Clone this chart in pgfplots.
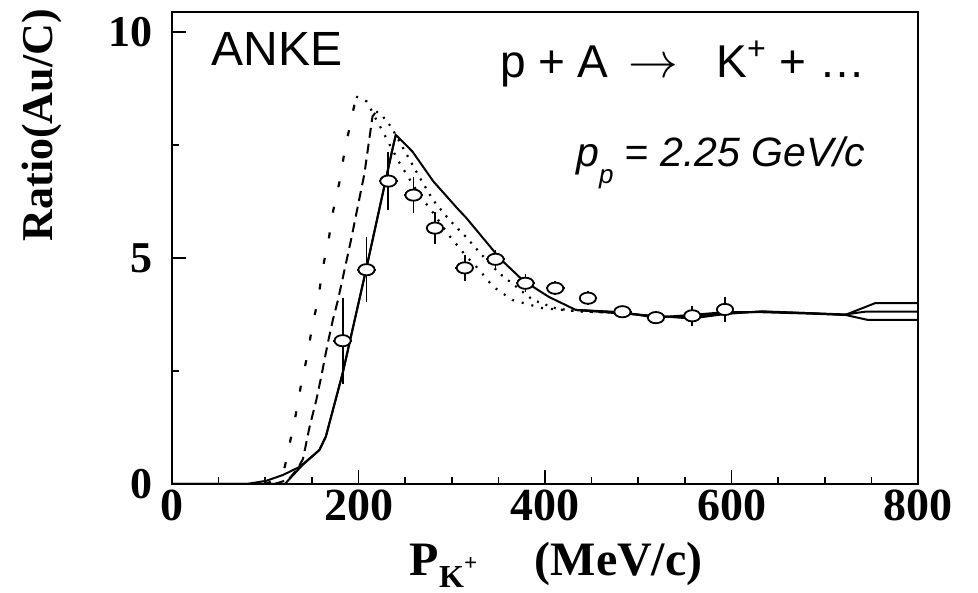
\documentclass[border=0pt]{standalone}
\usepackage{fontspec}
\setmainfont{Liberation Serif}
\newfontfamily\arial{Liberation Sans}
\usepackage{pgfplots}
\usepackage{pgfplotstable}
\pgfplotsset{compat=1.18}
\pgfplotstableread{
x y ex ey
183 3.17 10 0.95
208.6 4.74 10 0.72
232 6.70 10 0.65
259 6.39 10 0.40
282 5.66 10 0.35
314 4.78 10 0.28
347 4.97 10 0.20
379 4.44 10 0.20
411 4.33 10 0.15
446 4.11 10 0.15
483 3.81 10 0.12
519 3.68 10 0.12
558 3.72 10 0.22
593 3.86 10 0.28
}\datatab
\begin{document}
\begin{tikzpicture}
\begin{axis}[
  name=ax,
  scale only axis,
  width=373pt, height=236pt,
  xmin=0, xmax=800, ymin=0, ymax=10.44,
  xtick={0,200,400,600,800},
  minor xtick={50,100,...,750},
  ytick={0,5,10},
  minor ytick={2.5,7.5},
  tick pos=left,
  tick align=inside,
  major tick length=7pt,
  minor tick length=3.5pt,
  axis line style={line width=0.9pt},
  every tick/.style={line width=0.8pt,black},
  every minor tick/.style={line width=0.8pt,black},
  /pgf/number format/assume math mode=true,
  yticklabel style={font=\fontsize{22}{22}\selectfont\bfseries, xshift=-6pt},
  xticklabel style={font=\fontsize{23}{23}\selectfont\bfseries, yshift=-1pt, inner ysep=2pt},
  every axis y label/.style={at={(axis description cs:-0.175,0.76)},rotate=90,anchor=center},
  every axis x label/.style={at={(axis description cs:0.515,-0.172)},anchor=center, inner sep=1pt},
  ylabel={\fontsize{22}{22}\selectfont\bfseries Ratio(Au/C)},
  xlabel={\fontsize{24}{24}\selectfont\bfseries P\raisebox{-0.25em}{\fontsize{16}{16}\selectfont K\raisebox{0.55em}{\fontsize{11.5}{11.5}\selectfont +}}\hspace{1.2em}(MeV/c)},
  clip=true,
]
% sparse dotted curve (rise)
\addplot[black, line width=1.1pt, dash pattern=on 3pt off 10pt] coordinates {
(100,0)(112,0.1)(121,0.38)(127,0.97)(133,1.56)(138.7,2.23)(145,2.83)(150.5,3.5)(156.5,4.07)(162,4.81)(168,5.41)(173,6.06)(179.7,6.69)(185,7.35)(191.4,7.98)(197.5,8.57)
};
% its descent
\addplot[black, line width=1.1pt, dash pattern=on 1pt off 4pt] coordinates {
(197.5,8.57)(209,8.46)(218,8.1)(226,7.8)(232,7.56)(244,7.1)(250,6.9)(265,6.4)(280,6.0)(297,5.5)(315,5.05)(329,4.75)(344,4.37)(365,4.07)(397,3.89)(436,3.82)(480,3.78)
};
% dashed curve (rise)
\addplot[black, line width=1pt, dash pattern=on 5pt off 3pt] coordinates {
(110,0)(125,0.1)(135,0.35)(140.4,0.55)(147.6,1.27)(154.8,1.86)(160,2.37)(167,3.11)(172.5,3.63)(178,4.07)(192,5.4)(206.4,6.87)(215,8.13)(219,8.24)
};
% its descent
\addplot[black, line width=1.1pt, dash pattern=on 1pt off 3.5pt] coordinates {
(219,8.24)(226,8.13)(235,7.9)(250,7.35)(265,6.8)(280,6.28)(297,5.85)(315,5.47)(333,5.05)(351,4.66)(370,4.35)(387,4.07)(411,3.89)(430,3.83)(480,3.78)
};
% solid curves
\addplot[black, line width=1pt] coordinates {
(0,0)(80,0)(101,0.07)(119,0.2)(137,0.38)(158,0.75)(165,1.05)(183,2.45)(208,4.73)(237,7.46)(240,7.72)(245,7.62)(258,7.35)(280,6.7)(308,6.05)(315,5.9)(344,5.18)(351,5.0)(376,4.51)(404,4.14)(433,3.85)(483,3.79)(518,3.70)(557,3.70)(593,3.78)(632,3.81)(682,3.78)(722,3.74)(754,4.0)(800,4.0)
};
\addplot[black, line width=1pt] coordinates {
(0,0)(121,0)(140,0.42)(158,0.75)(165,1.05)(183,2.45)(208,4.73)(237,7.46)(240,7.72)
};
\addplot[black, line width=1pt] coordinates {
(433,3.85)(483,3.77)(518,3.72)(557,3.66)(593,3.76)(632,3.82)(682,3.78)(722,3.75)(743,3.81)(800,3.81)
};
\addplot[black, line width=1pt] coordinates {
(433,3.85)(483,3.80)(518,3.68)(557,3.74)(593,3.80)(632,3.80)(682,3.77)(722,3.74)(746,3.63)(800,3.63)
};
% data: error bars first, then open markers on top
\addplot[black, draw=none, mark=none,
  error bars/.cd, x dir=both, x explicit, y dir=both, y explicit,
  error mark=none, error bar style={line width=0.9pt, solid}]
  table[x=x, y=y, x error=ex, y error=ey] {\datatab};
\addplot[black, only marks, mark=*, mark size=2.8pt,
  mark options={xscale=1.45, fill=white, draw=black, line width=0.9pt, solid}]
  table[x=x, y=y] {\datatab};
\node[anchor=base west, font=\arial\fontsize{24}{24}\selectfont] at (axis cs:35,9.25) {ANKE};
\node[anchor=base east, font=\arial\fontsize{23}{23}\selectfont, inner sep=0pt] at (axis cs:744,8.98) {p + A\hspace{10pt}$\rightarrow$\hspace{19pt}K\textsuperscript{+} + …};
\node[anchor=base east, font=\arial\itshape\fontsize{20.5}{20.5}\selectfont, inner sep=0pt] at (axis cs:744,7.02) {p\raisebox{-0.4em}{\fontsize{13}{13}\selectfont p} = 2.25 GeV/c};
\end{axis}
\pgfresetboundingbox
\path[use as bounding box] ([xshift=-86pt,yshift=-54.5pt]ax.south west) rectangle ([xshift=30pt,yshift=6pt]ax.north east);
\end{tikzpicture}
\end{document}
